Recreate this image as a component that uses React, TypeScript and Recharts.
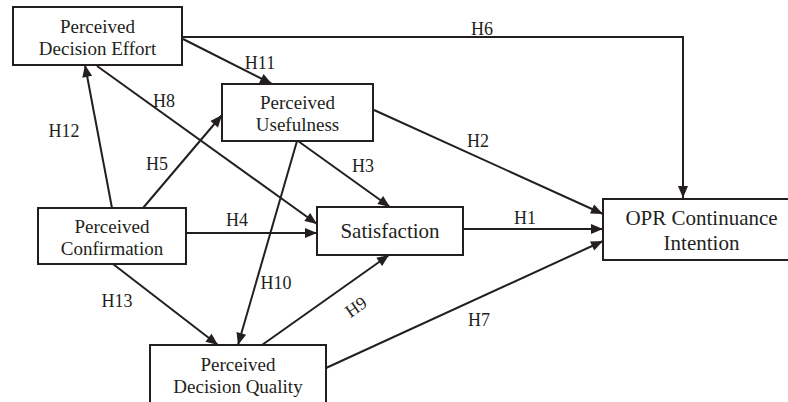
import React from "react";
import {
  ScatterChart,
  Scatter,
  XAxis,
  YAxis,
  ReferenceArea,
} from "recharts";

// -------------------------------
// Diagram data (chart coordinates, 1 unit = 1 px)
// -------------------------------
type Node = {
  id: string;
  lines: string[];
  x1: number;
  x2: number;
  y1: number;
  y2: number;
  big?: boolean;
};

const nodes: Node[] = [
  { id: "PDE", lines: ["Perceived", "Decision Effort"], x1: 13, x2: 182, y1: 7, y2: 65 },
  { id: "PU", lines: ["Perceived", "Usefulness"], x1: 222, x2: 373, y1: 84, y2: 141 },
  { id: "PC", lines: ["Perceived", "Confirmation"], x1: 38, x2: 186, y1: 208, y2: 264 },
  { id: "SAT", lines: ["Satisfaction"], x1: 317, x2: 463, y1: 207, y2: 255, big: true },
  { id: "OPR", lines: ["OPR Continuance", "Intention"], x1: 603, x2: 800, y1: 199, y2: 260, big: true },
  { id: "PDQ", lines: ["Perceived", "Decision Quality"], x1: 150, x2: 326, y1: 345, y2: 404 },
];

type Edge = { id: string; pts: [number, number][] };

const edges: Edge[] = [
  { id: "H6", pts: [[182, 37], [683, 37], [683, 198]] },
  { id: "H11", pts: [[183, 39], [272, 84]] },
  { id: "H8", pts: [[97, 66], [317, 224]] },
  { id: "H12", pts: [[112, 208], [85, 65]] },
  { id: "H5", pts: [[143, 208], [222, 115]] },
  { id: "H4", pts: [[186, 233], [317, 233]] },
  { id: "H2", pts: [[374, 110], [603, 214]] },
  { id: "H3", pts: [[298, 141], [390, 207]] },
  { id: "H10", pts: [[297, 141], [238, 345]] },
  { id: "H13", pts: [[113, 264], [218, 345]] },
  { id: "H9", pts: [[262, 345], [389, 255]] },
  { id: "H1", pts: [[463, 229], [603, 229]] },
  { id: "H7", pts: [[326, 368], [603, 241]] },
];

// label anchor: x = centre, y = baseline
const pathLabels = [
  { text: "H6", x: 482, y: 35, rot: 0 },
  { text: "H11", x: 260, y: 69, rot: 0 },
  { text: "H8", x: 164, y: 107, rot: 0 },
  { text: "H12", x: 64, y: 137, rot: 0 },
  { text: "H2", x: 478, y: 147, rot: 0 },
  { text: "H5", x: 157, y: 170, rot: 0 },
  { text: "H3", x: 363, y: 172, rot: 0 },
  { text: "H4", x: 237, y: 226, rot: 0 },
  { text: "H1", x: 525, y: 224, rot: 0 },
  { text: "H10", x: 276, y: 289, rot: 0 },
  { text: "H13", x: 117, y: 307, rot: 0 },
  { text: "H9", x: 356, y: 313, rot: -35 },
  { text: "H7", x: 479, y: 326, rot: 0 },
];

const INK = "#231f20";
const FONT = "'Liberation Serif', 'Times New Roman', Times, 'DejaVu Serif', serif";

// points for each edge, last point carries the arrow angle
const edgeData = edges.map((e) =>
  e.pts.map(([x, y], i) => {
    const last = i === e.pts.length - 1;
    const [px, py] = last ? e.pts[i - 1] : [x, y];
    return {
      x,
      y,
      tip: last,
      angle: (Math.atan2(y - py, x - px) * 180) / Math.PI,
    };
  })
);

const ArrowHead = (props: any) => {
  const { cx, cy, payload } = props;
  if (!payload || !payload.tip) return <g />;
  return (
    <polygon
      points={`${cx},${cy} ${cx - 12},${cy - 5} ${cx - 12},${cy + 5}`}
      fill={INK}
      transform={`rotate(${payload.angle}, ${cx}, ${cy})`}
    />
  );
};

const NodeText = (props: any) => {
  const { cx, cy, payload } = props;
  const size = payload.big ? 21 : 19;
  const lh = payload.big ? 25 : 22;
  const n = payload.lines.length;
  const first = n === 1 ? cy + size * 0.35 : cy + size * 0.4 - lh / 2;
  return (
    <text
      textAnchor="middle"
      style={{ fontFamily: FONT, fontSize: size }}
      fill={INK}
    >
      {payload.lines.map((l: string, i: number) => (
        <tspan key={i} x={cx} y={first + i * lh}>
          {l}
        </tspan>
      ))}
    </text>
  );
};

const PathLabel = (props: any) => {
  const { cx, cy, payload } = props;
  return (
    <text
      x={cx}
      y={cy}
      textAnchor="middle"
      style={{ fontFamily: FONT, fontSize: 18 }}
      fill={INK}
      transform={payload.rot ? `rotate(${payload.rot}, ${cx}, ${cy - 6})` : undefined}
    >
      {payload.text}
    </text>
  );
};

export default function App() {
  return (
    <div style={{ position: "absolute", left: 0, top: 0, background: "#fff" }}>
      <ScatterChart
        width={788}
        height={402}
        margin={{ top: 0, right: 0, bottom: 0, left: 0 }}
      >
        <XAxis type="number" dataKey="x" domain={[0, 788]} hide />
        <YAxis type="number" dataKey="y" domain={[0, 402]} reversed hide />
        {nodes.map((n) => (
          <ReferenceArea
            key={n.id}
            x1={n.x1}
            x2={n.x2}
            y1={n.y1}
            y2={n.y2}
            fill="none"
            stroke={INK}
            strokeWidth={2}
            ifOverflow="visible"
          />
        ))}
        {edgeData.map((d, i) => (
          <Scatter
            key={edges[i].id}
            data={d}
            line={{ stroke: INK, strokeWidth: 2 }}
            shape={ArrowHead}
            isAnimationActive={false}
          />
        ))}
        <Scatter
          data={nodes.map((n) => ({
            x: (n.x1 + n.x2) / 2,
            y: (n.y1 + n.y2) / 2,
            lines: n.lines,
            big: !!n.big,
          }))}
          shape={NodeText}
          isAnimationActive={false}
        />
        <Scatter data={pathLabels} shape={PathLabel} isAnimationActive={false} />
      </ScatterChart>
    </div>
  );
}
